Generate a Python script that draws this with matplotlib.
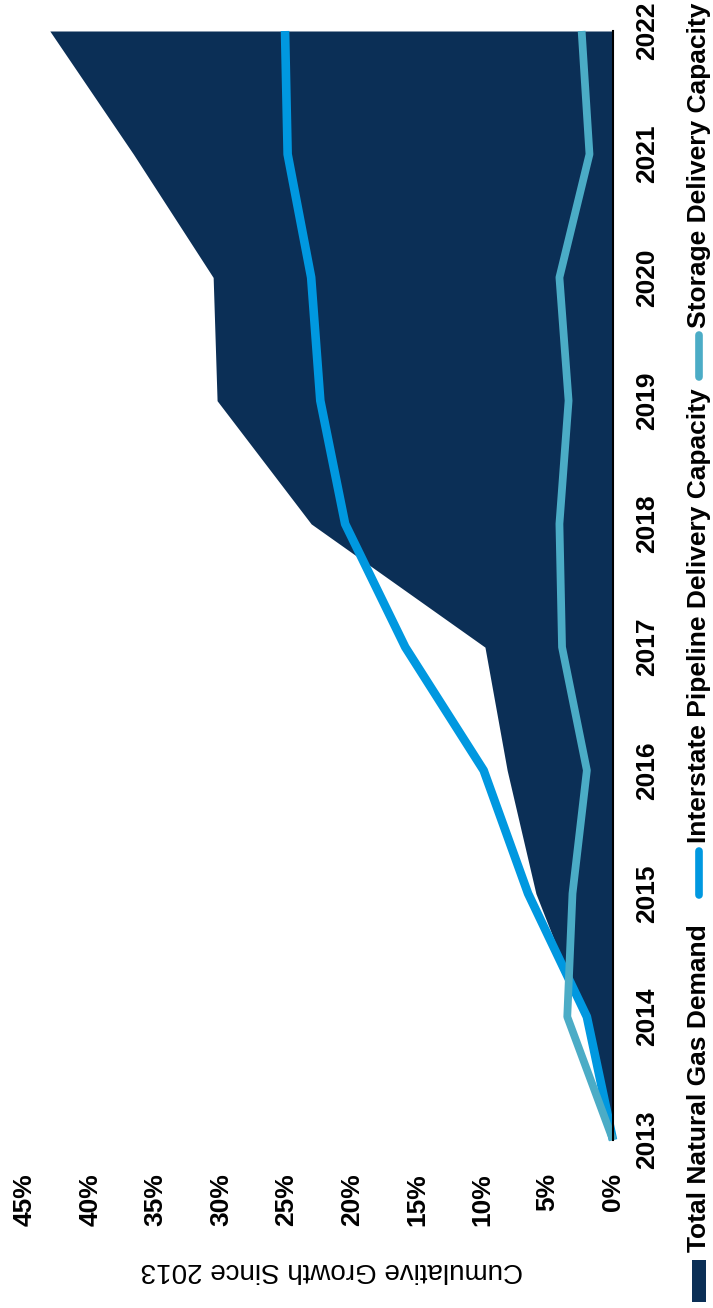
import matplotlib
matplotlib.use("Agg")
import matplotlib.pyplot as plt
from matplotlib.patches import Rectangle
from matplotlib.lines import Line2D

years = [2013, 2014, 2015, 2016, 2017, 2018, 2019, 2020, 2021, 2022]
demand = [0, 2.2, 5.9, 8.1, 9.8, 23.1, 30.3, 30.6, 36.7, 43.1]
pipeline = [0, 2.0, 6.5, 9.9, 15.9, 20.5, 22.4, 23.1, 24.9, 25.1]
storage = [0, 3.5, 3.1, 2.0, 3.9, 4.1, 3.4, 4.1, 1.8, 2.4]
pct_ticks = [0, 5, 10, 15, 20, 25, 30, 35, 40, 45]
series_names = ["Total Natural Gas Demand",
                "Interstate Pipeline Delivery Capacity",
                "Storage Delivery Capacity"]

NAVY = "#0B2F56"
PIPE = "#0098E0"
STORE = "#4BACC6"

plt.rcParams["font.family"] = ["Liberation Sans", "DejaVu Sans"]

W, H = 713, 1308
fig = plt.figure(figsize=(W / 100, H / 100), dpi=100)

# chart is drawn rotated: percent runs right-to-left, years bottom-to-top
ax = fig.add_axes([25 / W, (H - 1140) / H, (613 - 25) / W, (1140 - 31) / H])
ax.fill_betweenx(years, 0, demand, color=NAVY, lw=0)
ax.plot(pipeline, years, color=PIPE, lw=6.2, clip_on=False, solid_capstyle="butt")
ax.plot(storage, years, color=STORE, lw=5.6, clip_on=False, solid_capstyle="butt")

ax.set_xlim(45, 0)
ax.set_ylim(2013, 2022)
ax.set_xticks(pct_ticks)
ax.set_xticklabels([f"{v}%" for v in pct_ticks], rotation=90,
                   fontsize=19, fontweight="bold")
ax.set_yticks(years)
ax.yaxis.tick_right()
ax.set_yticklabels([str(y) for y in years], rotation=90, va="center",
                   fontsize=19, fontweight="bold")
ax.tick_params(axis="x", length=0, pad=24)
ax.tick_params(axis="y", length=0, pad=16)
for side in ["top", "bottom", "left"]:
    ax.spines[side].set_visible(False)
ax.spines["right"].set_color("black")
ax.spines["right"].set_linewidth(1.5)

fig.text(332 / W, 1 - 1270 / H, "Cumulative Growth Since 2013", rotation=180,
         ha="center", va="center", fontsize=20)

# legend, stacked along the right edge
lx = 699 / W
fig.add_artist(Rectangle((692 / W, 1 - 1302 / H), 14 / W, 42 / H,
                         transform=fig.transFigure, color=NAVY, lw=0))
fig.text(lx, 1 - 1252 / H, series_names[0], rotation=90, ha="center",
         va="bottom", fontsize=19, fontweight="bold")
fig.add_artist(Line2D([lx, lx], [1 - 895 / H, 1 - 851 / H], transform=fig.transFigure,
                      color=PIPE, lw=5.5, solid_capstyle="round"))
fig.text(lx, 1 - 843 / H, series_names[1], rotation=90, ha="center",
         va="bottom", fontsize=19, fontweight="bold")
fig.add_artist(Line2D([lx, lx], [1 - 377 / H, 1 - 335 / H], transform=fig.transFigure,
                      color=STORE, lw=5.5, solid_capstyle="round"))
fig.text(lx, 1 - 328 / H, series_names[2], rotation=90, ha="center",
         va="bottom", fontsize=19, fontweight="bold")

fig.savefig("out.png", dpi=100)
